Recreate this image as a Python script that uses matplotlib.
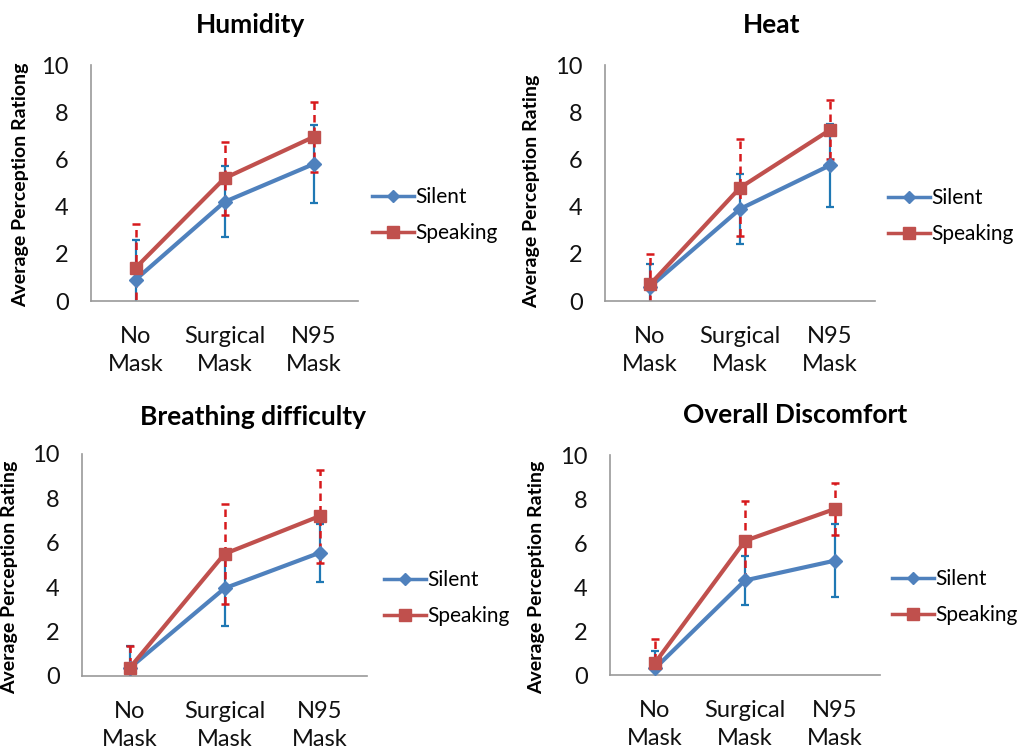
import matplotlib
matplotlib.use("Agg")
import matplotlib.pyplot as plt
import numpy as np

plt.rcParams['font.family'] = ['Lato', 'DejaVu Sans']

categories = ["No\nMask", "Surgical\nMask", "N95\nMask"]
titles = ["Humidity", "Heat", "Breathing difficulty", "Overall Discomfort"]
ylabels = ["Average Perception Rationg", "Average Perception Rating",
           "Average Perception Rating", "Average Perception Rating"]

silent_humidity = [0.9, 4.2, 5.8]
silent_humidity_err = [1.7, 1.5, 1.65]
speaking_humidity = [1.4, 5.2, 6.95]
speaking_humidity_err = [1.85, 1.55, 1.5]

silent_heat = [0.6, 3.9, 5.75]
silent_heat_err = [0.95, 1.5, 1.75]
speaking_heat = [0.7, 4.8, 7.25]
speaking_heat_err = [1.3, 2.05, 1.25]

silent_breath = [0.35, 3.95, 5.55]
silent_breath_err = [1.0, 1.7, 1.3]
speaking_breath = [0.35, 5.5, 7.2]
speaking_breath_err = [1.0, 2.25, 2.1]

silent_overall = [0.3, 4.3, 5.2]
silent_overall_err = [0.8, 1.13, 1.65]
speaking_overall = [0.55, 6.1, 7.55]
speaking_overall_err = [1.07, 1.8, 1.2]

silent = [silent_humidity, silent_heat, silent_breath, silent_overall]
silent_err = [silent_humidity_err, silent_heat_err, silent_breath_err, silent_overall_err]
speaking = [speaking_humidity, speaking_heat, speaking_breath, speaking_overall]
speaking_err = [speaking_humidity_err, speaking_heat_err, speaking_breath_err, speaking_overall_err]

W, H = 1033, 755
fig = plt.figure(figsize=(W / 100, H / 100), dpi=100)

# (left, right, top(y of 10), bottom(y of 0)) in pixels
boxes = [(91, 358, 65, 301), (605, 875, 65, 301), (82, 367, 454, 676), (610, 880, 455, 675)]
title_pos = [(250, 25), (772, 25), (253, 417), (795, 415)]
ylabel_pos = [(29, 185), (540, 191), (18, 577), (545, 577)]
legend_pos = [(372, 215), (888, 216), (384, 598), (892, 597)]

blue = "#4F81BD"
red = "#C0504D"
blue_err = "#1F78B4"
red_err = "#D7191C"

x = np.arange(len(categories))
for i in range(4):
    l, r, t, b = boxes[i]
    ax = fig.add_axes([l / W, 1 - b / H, (r - l) / W, (b - t) / H])
    ax.errorbar(x, silent[i], yerr=silent_err[i], fmt='none', ecolor=blue_err,
                elinewidth=1.6, capsize=3, capthick=1.6, zorder=2)
    eb = ax.errorbar(x, speaking[i], yerr=speaking_err[i], fmt='none', ecolor=red_err,
                     elinewidth=1.8, capsize=3, capthick=1.8, zorder=2)
    for lc in eb[2]:
        lc.set_linestyle((0, (3, 2)))
    h1, = ax.plot(x, silent[i], color=blue, lw=3, marker='D', ms=7, zorder=3, label="Silent")
    h2, = ax.plot(x, speaking[i], color=red, lw=3, marker='s', ms=9, zorder=4, label="Speaking")
    ax.set_xlim(-0.5, 2.5)
    ax.set_ylim(0, 10)
    ax.set_yticks([0, 2, 4, 6, 8, 10])
    ax.set_xticks(x)
    ax.set_xticklabels(categories, fontsize=17, linespacing=1.4)
    ax.tick_params(axis='both', length=0, labelsize=17, colors='#111111')
    ax.tick_params(axis='x', pad=18)
    ax.tick_params(axis='y', pad=16)
    for s in ['top', 'right']:
        ax.spines[s].set_visible(False)
    for s in ['left', 'bottom']:
        ax.spines[s].set_color('#999999')
        ax.spines[s].set_linewidth(1.2)
    ax.set_ylabel(ylabels[i], fontsize=14, fontweight='bold')
    yx, yy = ylabel_pos[i]
    ax.yaxis.set_label_coords((yx - l) / (r - l), (b - yy) / (b - t))
    tx, ty = title_pos[i]
    fig.text(tx / W, 1 - ty / H, titles[i], fontsize=19, fontweight='bold',
             ha='center', va='center')
    lx, ly = legend_pos[i]
    leg = fig.legend(handles=[h1, h2], labels=["Silent", "Speaking"],
                     loc='center left', bbox_to_anchor=(lx / W, 1 - ly / H),
                     frameon=False, fontsize=15, handlelength=2.0, handletextpad=0.1,
                     labelspacing=0.75, borderaxespad=0, borderpad=0)
    for h in leg.legend_handles:
        h.set_linewidth(2.5)
    for j, h in enumerate(leg.legend_handles):
        h.set_markersize(6 if j == 0 else 8)

fig.savefig("out.png", dpi=100, facecolor='white')
